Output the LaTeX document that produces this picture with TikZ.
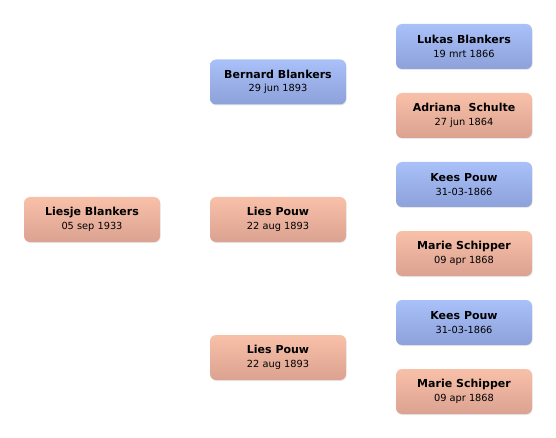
\documentclass[tikz,border=0pt]{standalone}
\usepackage{fontspec}
\setmainfont{DejaVu Sans}
\usetikzlibrary{shadows}
\definecolor{btop}{HTML}{A9C0F9}
\definecolor{bbot}{HTML}{8DA1DA}
\definecolor{rtop}{HTML}{F9C0A9}
\definecolor{rbot}{HTML}{DAA290}
\tikzset{
  person/.style={rounded corners=6pt, minimum width=136pt, minimum height=45pt,
    inner sep=0pt, align=center, font=\fontsize{9.8pt}{13.5pt}\selectfont,
    drop shadow={opacity=0.18, shadow xshift=0.6pt, shadow yshift=-1pt}},
  male/.style={person, top color=btop, bottom color=bbot},
  female/.style={person, top color=rtop, bottom color=rbot},
}
\newcommand{\pname}[1]{{\fontsize{11pt}{13.5pt}\selectfont\bfseries #1}}
\begin{document}
\begin{tikzpicture}[x=1pt,y=-1pt]
\useasboundingbox (0,0) rectangle (556,438);
\node[female] (liesje) at (92,219.5) {\pname{Liesje Blankers}\\05 sep 1933};
\node[male] (bernard) at (278,82) {\pname{Bernard Blankers}\\29 jun 1893};
\node[female] (lies1) at (278,219.5) {\pname{Lies Pouw}\\22 aug 1893};
\node[female] (lies2) at (278,357.5) {\pname{Lies Pouw}\\22 aug 1893};
\node[male] (lukas) at (464,46.5) {\pname{Lukas Blankers}\\19 mrt 1866};
\node[female] (adriana) at (464,115.5) {\pname{Adriana\ \ Schulte}\\27 jun 1864};
\node[male] (kees1) at (464,184.5) {\pname{Kees Pouw}\\31-03-1866};
\node[female] (marie1) at (464,253.5) {\pname{Marie Schipper}\\09 apr 1868};
\node[male] (kees2) at (464,322.5) {\pname{Kees Pouw}\\31-03-1866};
\node[female] (marie2) at (464,391.5) {\pname{Marie Schipper}\\09 apr 1868};
\end{tikzpicture}
\end{document}
